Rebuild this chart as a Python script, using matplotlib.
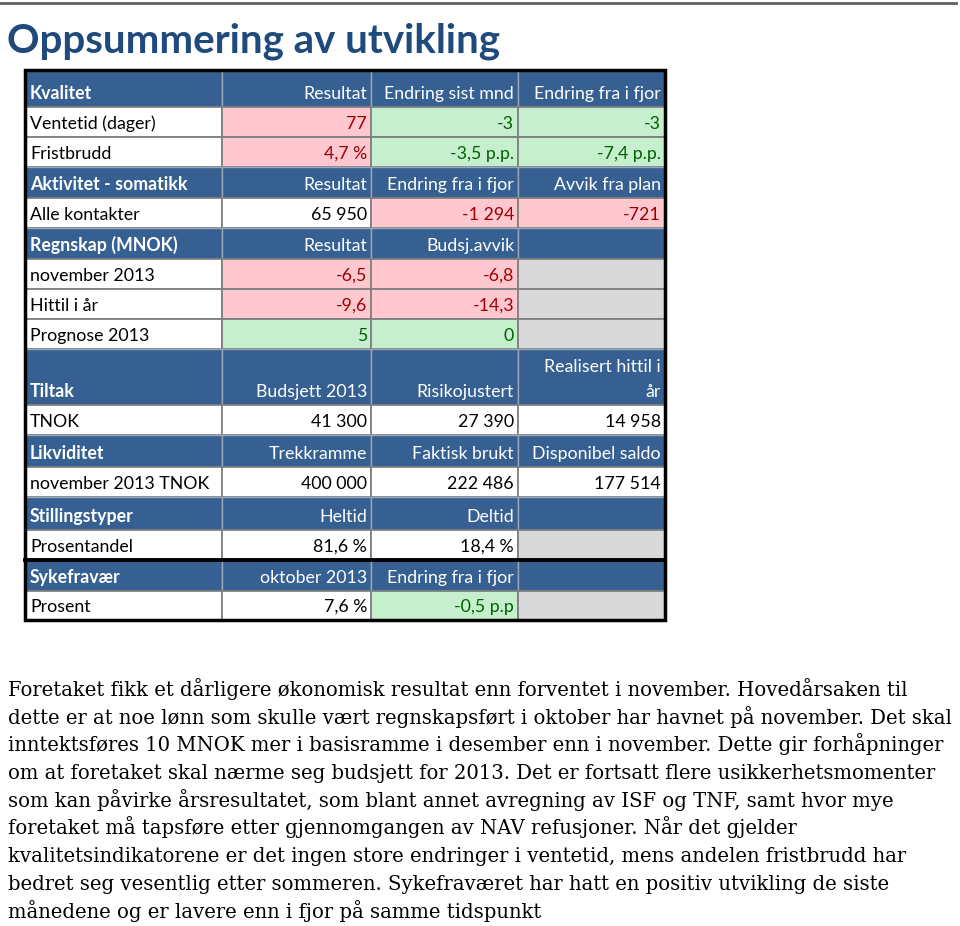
import matplotlib
matplotlib.use('Agg')
import matplotlib.pyplot as plt
from matplotlib.patches import Rectangle

# table content, one list per section
kvalitet_head = ['Kvalitet', 'Resultat', 'Endring sist mnd', 'Endring fra i fjor']
kvalitet_rows = [['Ventetid (dager)', '77', '-3', '-3'],
                 ['Fristbrudd', '4,7 %', '-3,5 p.p.', '-7,4 p.p.']]
kvalitet_fill = [['w', 'r', 'g', 'g'], ['w', 'r', 'g', 'g']]

aktivitet_head = ['Aktivitet - somatikk', 'Resultat', 'Endring fra i fjor', 'Avvik fra plan']
aktivitet_rows = [['Alle kontakter', '65 950', '-1 294', '-721']]
aktivitet_fill = [['w', 'w', 'r', 'r']]

regnskap_head = ['Regnskap (MNOK)', 'Resultat', 'Budsj.avvik', '']
regnskap_rows = [['november 2013', '-6,5', '-6,8', ''],
                 ['Hittil i år', '-9,6', '-14,3', ''],
                 ['Prognose 2013', '5', '0', '']]
regnskap_fill = [['w', 'r', 'r', 'x'], ['w', 'r', 'r', 'x'], ['w', 'g', 'g', 'x']]

tiltak_head = ['Tiltak', 'Budsjett 2013', 'Risikojustert', 'Realisert hittil i\når']
tiltak_rows = [['TNOK', '41 300', '27 390', '14 958']]
tiltak_fill = [['w', 'w', 'w', 'w']]

likviditet_head = ['Likviditet', 'Trekkramme', 'Faktisk brukt', 'Disponibel saldo']
likviditet_rows = [['november 2013 TNOK', '400 000', '222 486', '177 514']]
likviditet_fill = [['w', 'w', 'w', 'w']]

stilling_head = ['Stillingstyper', 'Heltid', 'Deltid', '']
stilling_rows = [['Prosentandel', '81,6 %', '18,4 %', '']]
stilling_fill = [['w', 'w', 'w', 'x']]

syke_head = ['Sykefravær', 'oktober 2013', 'Endring fra i fjor', '']
syke_rows = [['Prosent', '7,6 %', '-0,5 p.p', '']]
syke_fill = [['w', 'w', 'g', 'x']]

sections = [(kvalitet_head, kvalitet_rows, kvalitet_fill),
            (aktivitet_head, aktivitet_rows, aktivitet_fill),
            (regnskap_head, regnskap_rows, regnskap_fill),
            (tiltak_head, tiltak_rows, tiltak_fill),
            (likviditet_head, likviditet_rows, likviditet_fill),
            (stilling_head, stilling_rows, stilling_fill),
            (syke_head, syke_rows, syke_fill)]

paragraph = [
    'Foretaket fikk et dårligere økonomisk resultat enn forventet i november. Hovedårsaken til',
    'dette er at noe lønn som skulle vært regnskapsført i oktober har havnet på november. Det skal',
    'inntektsføres 10 MNOK mer i basisramme i desember enn i november. Dette gir forhåpninger',
    'om at foretaket skal nærme seg budsjett for 2013. Det er fortsatt flere usikkerhetsmomenter',
    'som kan påvirke årsresultatet, som blant annet avregning av ISF og TNF, samt hvor mye',
    'foretaket må tapsføre etter gjennomgangen av NAV refusjoner. Når det gjelder',
    'kvalitetsindikatorene er det ingen store endringer i ventetid, mens andelen fristbrudd har',
    'bedret seg vesentlig etter sommeren. Sykefraværet har hatt en positiv utvikling de siste',
    'månedene og er lavere enn i fjor på samme tidspunkt',
]

# colours
blue = '#366092'
fills = {'w': 'white', 'r': '#ffc7ce', 'g': '#c6efce', 'x': '#d9d9d9'}
tcol = {'w': 'black', 'r': '#9c0006', 'g': '#006100', 'x': 'black'}

# layout in pixels
col_x = [25, 222, 371, 518, 665]
head_h = [37, 31, 31, 56, 32, 33, 31]
row_h = 30

fig = plt.figure(figsize=(9.6, 9.26), dpi=100)
ax = fig.add_axes([0, 0, 1, 1])
ax.set_xlim(0, 960)
ax.set_ylim(926, 0)
ax.axis('off')

# top rule and title
ax.plot([0, 956], [3, 3], color='#606060', lw=2)
ax.text(7, 52, 'Oppsummering av utvikling', fontsize=29, fontweight='bold',
        color='#1f4a7c', family='Lato', va='baseline')

font = 'Lato'
fs = 12.8
y = 70
thick_y = None
for i, (head, rows, fill) in enumerate(sections):
    h = head_h[i]
    if i == 6:
        thick_y = y
    for c in range(4):
        ax.add_patch(Rectangle((col_x[c], y), col_x[c + 1] - col_x[c], h,
                               facecolor=blue, edgecolor='#9aa7b8', lw=1))
        txt = head[c]
        if c == 0:
            ax.text(col_x[0] + 5, y + h - 8, txt, color='white', fontsize=fs,
                    fontweight='bold', family=font, va='baseline')
        elif txt:
            lines = txt.split('\n')
            for k, ln in enumerate(reversed(lines)):
                ax.text(col_x[c + 1] - 4, y + h - 8 - 25 * k, ln, color='white',
                        fontsize=fs, family=font, ha='right', va='baseline')
    y += h
    for r, row in enumerate(rows):
        rh = row_h if i < 6 else 29
        for c in range(4):
            f = fill[r][c]
            ax.add_patch(Rectangle((col_x[c], y), col_x[c + 1] - col_x[c], rh,
                                   facecolor=fills[f], edgecolor='#808080', lw=1.3))
            if c == 0:
                ax.text(col_x[0] + 5, y + rh - 8, row[c], color='black',
                        fontsize=fs, family=font, va='baseline')
            elif row[c]:
                ax.text(col_x[c + 1] - 4, y + rh - 8, row[c], color=tcol[f],
                        fontsize=fs, family=font, ha='right', va='baseline')
        y += rh

# outer border and thick separator
ax.add_patch(Rectangle((col_x[0], 70), col_x[-1] - col_x[0], y - 70,
                       facecolor='none', edgecolor='black', lw=2.5))
ax.plot([col_x[0], col_x[-1]], [thick_y, thick_y], color='black', lw=2.8)

# paragraph text
for k, line in enumerate(paragraph):
    ax.text(8, 696 + 27.7 * k, line, fontsize=14.1, family='DejaVu Serif',
            color='black', va='baseline')

fig.savefig('out.png', dpi=100)
